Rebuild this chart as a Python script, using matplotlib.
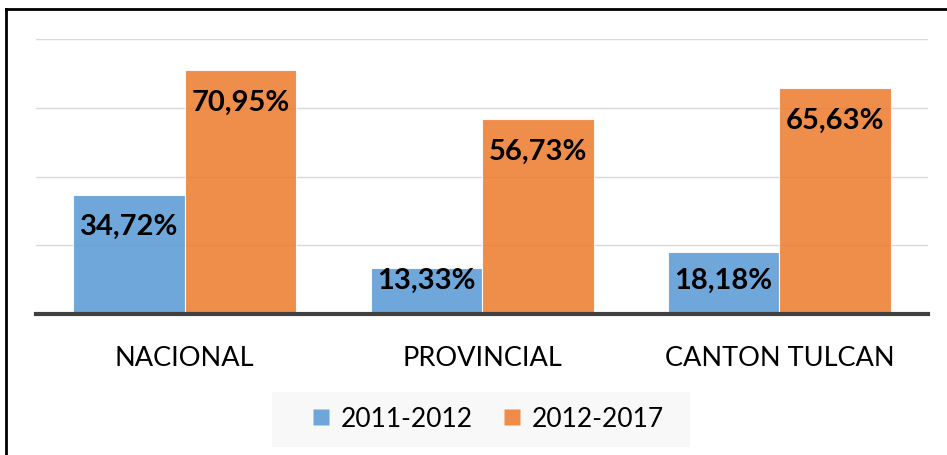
import matplotlib
matplotlib.use("Agg")
import matplotlib.pyplot as plt
import numpy as np
from matplotlib.lines import Line2D
from matplotlib.patches import Rectangle

# datos
categorias = ["NACIONAL", "PROVINCIAL", "CANTON TULCAN"]
series = ["2011-2012", "2012-2017"]
valores_2011_2012 = [34.72, 13.33, 18.18]
valores_2012_2017 = [70.95, 56.73, 65.63]

AZUL = "#5B9BD5"
NARANJA = "#ED7D31"
FUENTE = ["Lato", "DejaVu Sans"]

plt.rcParams["font.family"] = FUENTE

fig = plt.figure(figsize=(9.47, 4.56), dpi=100)
ax = fig.add_axes([36 / 947, 1 - 315 / 456, (928 - 36) / 947, (315 - 40) / 456])

x = np.arange(len(categorias))
ancho = 0.375
grupos = [
    (valores_2011_2012, AZUL, -ancho / 2),
    (valores_2012_2017, NARANJA, ancho / 2),
]
for vals, color, dx in grupos:
    barras = ax.bar(x + dx, vals, width=ancho, color=color, alpha=0.88,
                    edgecolor="white", linewidth=0.8, zorder=3)
    for b, v in zip(barras, vals):
        yl = max(v - 9.2, 9.9)
        ax.text(b.get_x() + b.get_width() / 2, yl,
                f"{v:.2f}%".replace(".", ","),
                ha="center", va="center", fontsize=21, fontweight="bold",
                color="black", zorder=4)

ax.set_xlim(-0.5, 2.5)
ax.set_ylim(0, 80)
ax.set_yticks([20, 40, 60, 80])
ax.yaxis.grid(True, color="#D9D9D9", linewidth=1.0, zorder=0)
ax.set_axisbelow(True)
ax.tick_params(axis="y", left=False, labelleft=False)
ax.tick_params(axis="x", length=0, pad=22)
ax.set_xticks(x)
ax.set_xticklabels(categorias, fontsize=19.5)
for lado in ["left", "right", "top"]:
    ax.spines[lado].set_visible(False)
ax.spines["bottom"].set_color("#404040")
ax.spines["bottom"].set_linewidth(3)
ax.spines["bottom"].set_zorder(5)

# leyenda con fondo gris claro
fig.patches.append(Rectangle((272 / 947, 1 - 448 / 456), (690 - 272) / 947, 55 / 456,
                             transform=fig.transFigure, facecolor="#F8F8F8",
                             edgecolor="none", zorder=0))
manijas = [Line2D([], [], marker="s", linestyle="none", markersize=12,
                  markerfacecolor=c, markeredgecolor="none", alpha=0.88)
           for c in (AZUL, NARANJA)]
fig.legend(manijas, series, loc="center", bbox_to_anchor=(487 / 947, 1 - 420 / 456),
           ncol=2, frameon=False, fontsize=19, handlelength=0.8,
           handletextpad=0.35, columnspacing=1.1)

# borde del recuadro
fig.add_artist(Line2D([6 / 947, 6 / 947], [0, 1 - 10 / 456], transform=fig.transFigure,
                      color="black", linewidth=2))
fig.add_artist(Line2D([6 / 947, 1], [1 - 10 / 456, 1 - 10 / 456], transform=fig.transFigure,
                      color="black", linewidth=2))

fig.savefig("out.png", dpi=100, facecolor="white")
